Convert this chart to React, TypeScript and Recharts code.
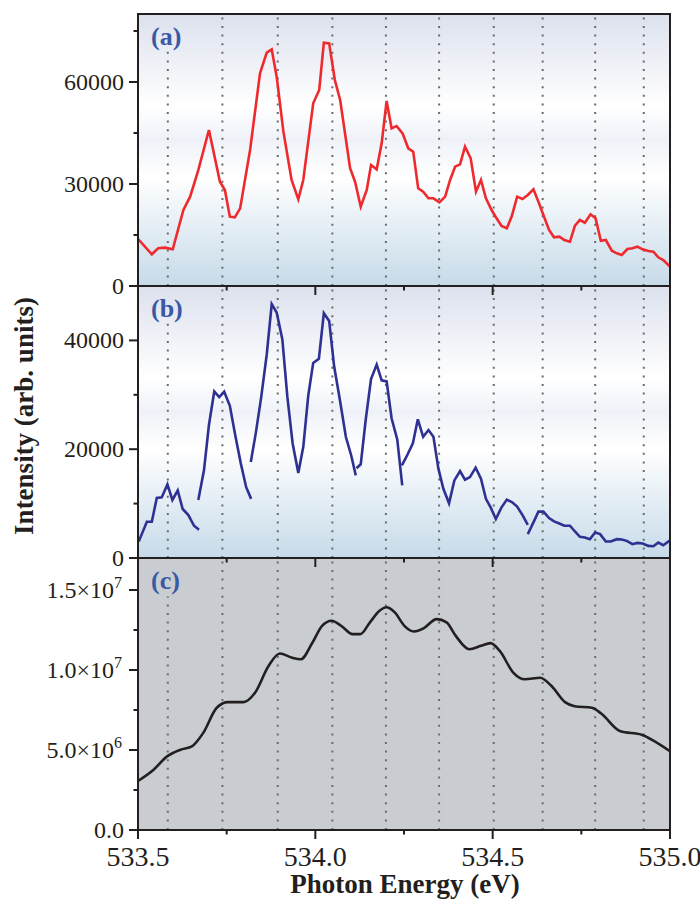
import React from "react";
import { LineChart, Line, XAxis, YAxis, ReferenceLine } from "recharts";

const FONT = '"Liberation Serif", "Times New Roman", serif';
const INK = "#231f20";

// dotted guides (eV)
const guideLines = [533.584, 533.738, 533.894, 534.048, 534.199, 534.349, 534.503, 534.641, 534.789, 534.926];

const xTicks = [533.5, 533.75, 534.0, 534.25, 534.5, 534.75, 535.0];
const xLabelled = [533.5, 534.0, 534.5, 535.0];

const aTicks = [0, 15000, 30000, 45000, 60000, 75000];
const aLabelled = [0, 30000, 60000];
const bTicks = [0, 10000, 20000, 30000, 40000];
const bLabelled = [0, 20000, 40000];
const cTicks = [0, 2.5e6, 5e6, 7.5e6, 1e7, 1.25e7, 1.5e7];
const cLabelled = [0, 5e6, 1e7, 1.5e7];

// (a) measured spectrum [eV, intensity]
const redSpectrum: [number, number][] = [
  [533.501, 13730], [533.539, 9320], [533.557, 11090], [533.576, 11270], [533.598, 10790],
  [533.628, 22350], [533.647, 26270], [533.670, 34110], [533.700, 45880], [533.731, 30680],
  [533.745, 28230], [533.759, 20390], [533.773, 20200], [533.788, 22840], [533.816, 40000],
  [533.844, 62550], [533.863, 68630], [533.877, 69610], [533.891, 61560], [533.910, 45390],
  [533.933, 31180], [533.952, 25490], [533.966, 31180], [533.994, 53730], [534.011, 57650],
  [534.024, 71560], [534.039, 71370], [534.055, 60590], [534.070, 54710], [534.098, 34620],
  [534.112, 30680], [534.128, 23330], [534.145, 28230], [534.157, 35590], [534.173, 34310],
  [534.187, 41960], [534.201, 54410], [534.215, 46380], [534.229, 47060], [534.246, 44900],
  [534.262, 40500], [534.276, 39500], [534.290, 28730], [534.304, 27740], [534.319, 25790],
  [534.333, 25790], [534.350, 24610], [534.366, 26270], [534.380, 31180], [534.394, 35090],
  [534.408, 35790], [534.422, 40970], [534.438, 37560], [534.453, 27740], [534.467, 31180],
  [534.481, 25790], [534.497, 22350], [534.511, 19910], [534.525, 17650], [534.540, 16970],
  [534.554, 20590], [534.569, 26270], [534.584, 25590], [534.599, 26760], [534.615, 28440],
  [534.629, 24800], [534.643, 20880], [534.659, 16470], [534.673, 14320], [534.688, 14500],
  [534.702, 13530], [534.718, 13030], [534.732, 17730], [534.746, 19410], [534.760, 18620],
  [534.776, 21090], [534.790, 19910], [534.805, 13320], [534.819, 13530], [534.836, 10380],
  [534.850, 9620], [534.864, 9120], [534.880, 10880], [534.894, 11090], [534.908, 11560],
  [534.923, 10790], [534.939, 10290], [534.953, 10090], [534.967, 8440], [534.981, 7650],
  [535.0, 5680],
];

// (b) measured in separate scan pieces
const blueScan1: [number, number][] = [
  [533.502, 3020], [533.525, 6670], [533.539, 6670], [533.553, 11050], [533.567, 11170],
  [533.583, 13520], [533.597, 10680], [533.612, 12410], [533.626, 9010], [533.642, 7900],
  [533.658, 5930], [533.672, 5190],
];
const blueScan2: [number, number][] = [
  [533.670, 10680], [533.686, 16110], [533.700, 24450], [533.715, 30620], [533.729, 29580],
  [533.743, 30560], [533.759, 27970], [533.775, 22280], [533.790, 17350], [533.805, 13020],
  [533.819, 10870],
];
const blueScan3: [number, number][] = [
  [533.818, 17650], [533.832, 22910], [533.847, 29390], [533.863, 37410], [533.877, 46670],
  [533.891, 45130], [533.907, 40190], [533.921, 29690], [533.936, 21060], [533.952, 15610],
  [533.966, 20430], [533.980, 29820], [533.994, 35870], [534.010, 36610], [534.024, 45000],
  [534.039, 43580], [534.053, 35240], [534.070, 28760], [534.086, 22280], [534.101, 18890],
  [534.114, 15190],
];
const blueScan4: [number, number][] = [
  [534.116, 16500], [534.128, 17220], [534.142, 25370], [534.157, 32910], [534.173, 35560],
  [534.187, 32650], [534.201, 32470], [534.215, 25690], [534.231, 21800], [534.245, 13330],
];
const blueScan5: [number, number][] = [
  [534.244, 17040], [534.259, 18890], [534.275, 21060], [534.289, 25500], [534.304, 22280],
  [534.319, 23520], [534.333, 22280], [534.347, 16430], [534.361, 12720], [534.377, 10060],
  [534.392, 14260], [534.408, 15980], [534.422, 14390], [534.436, 14870], [534.452, 16610],
  [534.467, 14580], [534.481, 10870], [534.495, 9200], [534.509, 7170], [534.525, 9320],
  [534.540, 10740], [534.555, 10240], [534.569, 9440], [534.585, 7780], [534.599, 6110],
];
const blueScan6: [number, number][] = [
  [534.599, 4390], [534.615, 6540], [534.629, 8520], [534.643, 8520], [534.659, 7350],
  [534.673, 6720], [534.688, 6350], [534.702, 5930], [534.718, 5930], [534.732, 4870],
  [534.746, 3890], [534.760, 3760], [534.774, 3460], [534.789, 4690], [534.803, 4390],
  [534.819, 3020], [534.833, 3020], [534.850, 3460], [534.864, 3390], [534.878, 3150],
  [534.894, 2540], [534.908, 2780], [534.923, 2650], [534.939, 2220], [534.953, 2170],
  [534.967, 2830], [534.981, 2350], [534.998, 3150],
];
const blueScans = [blueScan1, blueScan2, blueScan3, blueScan4, blueScan5, blueScan6];

// (c) calculated spectrum
const blackSpectrum: [number, number][] = [
  [533.501, 3.08e6], [533.544, 3.77e6], [533.582, 4.6e6], [533.62, 5.02e6], [533.652, 5.23e6],
  [533.684, 6.07e6], [533.722, 7.64e6], [533.754, 7.99e6], [533.797, 7.99e6], [533.83, 8.58e6],
  [533.868, 10.25e6], [533.9, 11.03e6], [533.933, 10.78e6], [533.959, 10.67e6], [533.992, 11.72e6],
  [534.019, 12.76e6], [534.046, 13.08e6], [534.073, 12.76e6], [534.105, 12.24e6], [534.127, 12.24e6],
  [534.154, 12.98e6], [534.181, 13.7e6], [534.2, 13.92e6], [534.224, 13.6e6], [534.251, 12.76e6],
  [534.278, 12.41e6], [534.305, 12.6e6], [534.342, 13.18e6], [534.37, 12.98e6], [534.396, 12.13e6],
  [534.434, 11.3e6], [534.467, 11.51e6], [534.494, 11.68e6], [534.52, 11.19e6], [534.558, 9.84e6],
  [534.591, 9.42e6], [534.634, 9.52e6], [534.666, 9.0e6], [534.704, 7.99e6], [534.731, 7.74e6],
  [534.78, 7.64e6], [534.806, 7.28e6], [534.86, 6.17e6], [534.92, 5.96e6], [534.957, 5.54e6],
  [535.0, 4.92e6],
];

const toRows = (pairs: [number, number][]) => pairs.map(([e, v]) => ({ e, v }));

const PLOT_L = 138;
const PLOT_W = 532;
const PLOT_H = 272;
const panelTops = [14, 286, 558];

const isIn = (list: number[], v: number) => list.some((t) => Math.abs(t - v) < 1e-6);

const XTick = (props: any) => {
  const { x, y, payload, withLabel } = props;
  const v = payload.value;
  const major = isIn(xLabelled, v);
  return (
    <g>
      <line x1={x} x2={x} y1={y} y2={y + (major ? 9 : 4.5)} stroke={INK} strokeWidth={2} />
      {withLabel && major && (
        <text x={x} y={y + 36} textAnchor="middle" fontFamily={FONT} fontSize={28} fill={INK}>
          {v.toFixed(1)}
        </text>
      )}
    </g>
  );
};

const sciLabel = (v: number) => {
  if (v === 0) return <tspan>0.0</tspan>;
  const exp = Math.floor(Math.log10(v));
  const mant = (v / Math.pow(10, exp)).toFixed(1);
  return (
    <>
      <tspan>{`${mant}×10`}</tspan>
      <tspan dy={-10} fontSize={16}>{exp}</tspan>
    </>
  );
};

const YTick = (props: any) => {
  const { x, y, payload, labelled, sci } = props;
  const v = payload.value;
  const major = isIn(labelled, v);
  const shift = sci && v !== 0 ? 16 : 14;
  return (
    <g>
      <line x1={x - (major ? 9 : 4.5)} x2={x} y1={y} y2={y} stroke={INK} strokeWidth={2} />
      {major && (
        <text x={x - shift} y={y + 8} textAnchor="end" fontFamily={FONT} fontSize={24} fill={INK}>
          {sci ? sciLabel(v) : String(v)}
        </text>
      )}
    </g>
  );
};

const Guides = ({ firstTop }: { firstTop: number }) => (
  <>
    {guideLines.map((g, i) =>
      i === 0 ? (
        <ReferenceLine
          key={g}
          segment={[{ x: g, y: 0 }, { x: g, y: firstTop }]}
          stroke="#6b6b6b"
          strokeWidth={2}
          strokeDasharray="2 6.6"
        />
      ) : (
        <ReferenceLine key={g} x={g} stroke="#6b6b6b" strokeWidth={2} strokeDasharray="2 6.6" />
      )
    )}
  </>
);

const panelGradient =
  "linear-gradient(to bottom, #dce1ed 0%, #ffffff 34%, #eef2f8 46%, #ffffff 60%, #c6dae9 100%)";

export default function App() {
  const xAxis = (withLabel: boolean, h: number) => (
    <XAxis
      dataKey="e"
      type="number"
      domain={[533.5, 535.0]}
      allowDataOverflow
      ticks={xTicks}
      interval={0}
      height={h}
      axisLine={false}
      tickLine={false}
      tickSize={0}
      tickMargin={0}
      tick={(p: any) => <XTick {...p} withLabel={withLabel} />}
    />
  );
  const yAxis = (max: number, ticks: number[], labelled: number[], sci: boolean) => (
    <YAxis
      type="number"
      domain={[0, max]}
      allowDataOverflow
      ticks={ticks}
      interval={0}
      width={PLOT_L}
      axisLine={false}
      tickLine={false}
      tickSize={0}
      tickMargin={0}
      tick={(p: any) => <YTick {...p} labelled={labelled} sci={sci} />}
    />
  );

  return (
    <div style={{ position: "absolute", left: 0, top: 0, width: 700, height: 901, background: "#fff" }}>
      {panelTops.map((t, i) => (
        <div
          key={"bg" + i}
          style={{
            position: "absolute",
            left: PLOT_L,
            top: t,
            width: PLOT_W,
            height: PLOT_H,
            background: i === 2 ? "#c9cdd1" : panelGradient,
          }}
        />
      ))}

      <div style={{ position: "absolute", left: 0, top: 544, zIndex: 1 }}>
        <LineChart width={700} height={357} margin={{ top: 14, right: 30, bottom: 31, left: 0 }}>
          {xAxis(true, 40)}
          {yAxis(1.7e7, cTicks, cLabelled, true)}
          {Guides({ firstTop: 1.46e7 })}
          <Line
            data={toRows(blackSpectrum)}
            dataKey="v"
            type="monotone"
            stroke={INK}
            strokeWidth={2.6}
            dot={false}
            isAnimationActive={false}
          />
        </LineChart>
      </div>

      <div style={{ position: "absolute", left: 0, top: 272, zIndex: 2 }}>
        <LineChart width={700} height={300} margin={{ top: 14, right: 30, bottom: 4, left: 0 }}>
          {xAxis(false, 10)}
          {yAxis(50000, bTicks, bLabelled, false)}
          {Guides({ firstTop: 43300 })}
          {blueScans.map((s, i) => (
            <Line
              key={"b" + i}
              data={toRows(s)}
              dataKey="v"
              type="linear"
              stroke="#2e3192"
              strokeWidth={2.6}
              dot={false}
              isAnimationActive={false}
            />
          ))}
        </LineChart>
      </div>

      <div style={{ position: "absolute", left: 0, top: 0, zIndex: 3 }}>
        <LineChart width={700} height={300} margin={{ top: 14, right: 30, bottom: 4, left: 0 }}>
          {xAxis(false, 10)}
          {yAxis(80000, aTicks, aLabelled, false)}
          {Guides({ firstTop: 69400 })}
          <Line
            data={toRows(redSpectrum)}
            dataKey="v"
            type="linear"
            stroke="#ee2a2e"
            strokeWidth={2.6}
            dot={false}
            isAnimationActive={false}
          />
        </LineChart>
      </div>

      {panelTops.map((t, i) => (
        <div
          key={"fr" + i}
          style={{
            position: "absolute",
            left: PLOT_L - 1,
            top: t - 1,
            width: PLOT_W + 2,
            height: PLOT_H + 2,
            border: `2px solid ${INK}`,
            boxSizing: "border-box",
            zIndex: 4,
            pointerEvents: "none",
          }}
        />
      ))}

      <svg
        width={700}
        height={901}
        style={{ position: "absolute", left: 0, top: 0, zIndex: 5, pointerEvents: "none" }}
      >
        {["(a)", "(b)", "(c)"].map((lbl, i) => (
          <text
            key={lbl}
            x={151}
            y={panelTops[i] + 31}
            fontFamily={FONT}
            fontWeight="bold"
            fontSize={26}
            fill="#3a59a4"
          >
            {lbl}
          </text>
        ))}
        <text x={405} y={893} textAnchor="middle" fontFamily={FONT} fontWeight="bold" fontSize={27} fill={INK}>
          Photon Energy (eV)
        </text>
        <text
          x={33}
          y={416}
          textAnchor="middle"
          transform="rotate(-90 33 416)"
          fontFamily={FONT}
          fontWeight="bold"
          fontSize={27}
          fill={INK}
        >
          Intensity (arb. units)
        </text>
      </svg>
    </div>
  );
}
